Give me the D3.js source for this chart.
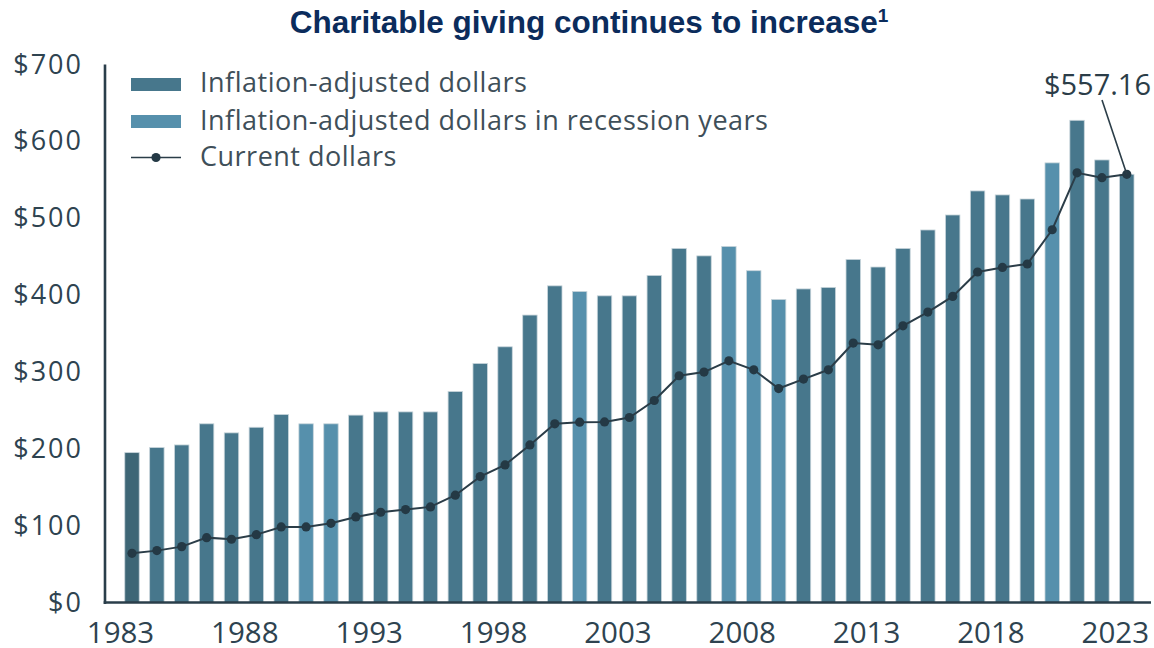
<!DOCTYPE html>
<html>
<head>
<meta charset="utf-8">
<script src="https://cdn.jsdelivr.net/npm/d3@7"></script>
<style>
  html, body { margin: 0; padding: 0; background: #ffffff; }
  svg { display: block; }
</style>
</head>
<body>
<svg id="chart" width="1154" height="648"></svg>
<script>
// Giving totals in billions of dollars, 1983–2023
const years = d3.range(1983, 2024);
const adjustedDollars = [
  195, 201.6, 205, 232.5, 220.7, 228, 244.6, 232.5, 232.5, 243.8,
  248, 248, 248, 274.5, 311, 332.7, 374, 412, 404.7, 399,
  399, 425.6, 460.7, 451, 463.3, 431.7, 394.3, 408, 410, 446.4,
  436.5, 460.7, 484.7, 504.2, 535.5, 530.3, 525, 572, 627.4, 575.8,
  557.16
];
const currentDollars = [
  64, 67.5, 72.7, 84.4, 82.3, 88.3, 98.3, 98.3, 103, 111.3,
  117.4, 120.9, 124.4, 139.6, 163.8, 179, 205, 232.5, 234.6, 235,
  240.7, 262.8, 295, 299.8, 314.5, 302.8, 278.4, 290.7, 302.8, 337.5,
  335.3, 360, 377.9, 398.2, 430, 436, 440.4, 485, 559, 552.8,
  557.16
];
const recessionYears = [1990, 1991, 2001, 2007, 2008, 2009, 2020];
const yTicks = [0, 100, 200, 300, 400, 500, 600, 700];
const xTicks = [1983, 1988, 1993, 1998, 2003, 2008, 2013, 2018, 2023];
const legendLabels = [
  "Inflation-adjusted dollars",
  "Inflation-adjusted dollars in recession years",
  "Current dollars"
];
const calloutYear = 2023;
const calloutValue = 557.16;

const colors = {
  bar: "#47778c",
  barFirst: "#3e6676",
  recession: "#5690ac",
  barEdge: "#c8d5db",
  line: "#2b3d48",
  dot: "#243945",
  axis: "#2a3e4a",
  tick: "#2e4350",
  legendText: "#3f4f59",
  title: "#0b2c5c"
};

const svg = d3.select("#chart");

const plot = { left: 105, right: 1151, top: 64.5, bottom: 602.5 };

const x = d3.scalePoint().domain(years).range([132, 1126.8]);
const y = d3.scaleLinear().domain([0, 700]).range([plot.bottom, plot.top]);
const barWidth = x.step() * 0.58;

const rows = years.map((yr, i) => ({
  year: yr,
  adjusted: adjustedDollars[i],
  current: currentDollars[i],
  recession: recessionYears.includes(yr)
}));

// Title
const title = svg.append("text")
  .attr("x", 589).attr("y", 33)
  .attr("text-anchor", "middle")
  .attr("font-family", "'Liberation Sans', Arial, sans-serif")
  .attr("font-weight", "bold")
  .attr("font-size", 31.5)
  .attr("fill", colors.title);
title.append("tspan").text("Charitable giving continues to increase");
title.append("tspan").attr("font-size", 19).attr("dy", -11).text("1");

// Bars
svg.append("g").selectAll("rect")
  .data(rows)
  .join("rect")
  .attr("x", d => x(d.year) - barWidth / 2)
  .attr("y", d => y(d.adjusted))
  .attr("width", barWidth)
  .attr("height", d => y(0) - y(d.adjusted))
  .attr("fill", (d, i) => d.recession ? colors.recession : (i === 0 ? colors.barFirst : colors.bar))
  .attr("stroke", colors.barEdge)
  .attr("stroke-width", 0.8);

// Current-dollar line
const line = d3.line().x(d => x(d.year)).y(d => y(d.current));
svg.append("path")
  .datum(rows)
  .attr("d", line)
  .attr("fill", "none")
  .attr("stroke", colors.line)
  .attr("stroke-width", 2);

svg.append("g").selectAll("circle")
  .data(rows)
  .join("circle")
  .attr("cx", d => x(d.year))
  .attr("cy", d => y(d.current))
  .attr("r", 4.6)
  .attr("fill", colors.dot);

// Axis lines
svg.append("line")
  .attr("x1", plot.left).attr("x2", plot.left)
  .attr("y1", plot.top).attr("y2", plot.bottom + 1.5)
  .attr("stroke", colors.axis).attr("stroke-width", 2.6);
svg.append("line")
  .attr("x1", plot.left - 1.3).attr("x2", plot.right)
  .attr("y1", plot.bottom).attr("y2", plot.bottom)
  .attr("stroke", colors.axis).attr("stroke-width", 2.6);

// Y tick labels
const yAxis = svg.append("g")
  .attr("transform", `translate(${plot.left},0)`)
  .call(d3.axisLeft(y).tickValues(yTicks).tickSize(0).tickPadding(22)
    .tickFormat(d => "$" + d));
yAxis.select(".domain").remove();
yAxis.selectAll("text")
  .attr("font-family", "'Open Sans', sans-serif")
  .attr("font-size", 27)
  .attr("letter-spacing", 2)
  .attr("fill", colors.tick);

// X tick labels, set slightly left of each bar centre
const xAxis = svg.append("g")
  .attr("transform", `translate(0,${plot.bottom})`)
  .call(d3.axisBottom(x).tickValues(xTicks).tickSize(0).tickPadding(19.5));
xAxis.select(".domain").remove();
xAxis.selectAll("text")
  .attr("font-family", "'Open Sans', sans-serif")
  .attr("font-size", 29.5)
  .attr("dx", -12)
  .attr("fill", colors.tick);

// Legend
const legend = svg.append("g").attr("transform", "translate(131,0)");
const legendBaselines = [92, 129.5, 166];
legend.append("rect").attr("x", 0).attr("y", 78).attr("width", 50).attr("height", 13)
  .attr("fill", colors.bar);
legend.append("rect").attr("x", 0).attr("y", 115).attr("width", 50).attr("height", 13)
  .attr("fill", colors.recession);
legend.append("line").attr("x1", 0).attr("x2", 50).attr("y1", 157.5).attr("y2", 157.5)
  .attr("stroke", colors.line).attr("stroke-width", 1.5);
legend.append("circle").attr("cx", 25).attr("cy", 157.5).attr("r", 4.6).attr("fill", colors.dot);
legend.selectAll("text.lbl")
  .data(legendLabels)
  .join("text")
  .attr("class", "lbl")
  .attr("x", 69)
  .attr("y", (d, i) => legendBaselines[i])
  .attr("font-family", "'Open Sans', sans-serif")
  .attr("font-size", 27)
  .attr("letter-spacing", 0.5)
  .attr("fill", colors.legendText)
  .text(d => d);

// Callout for the latest year
const cx = x(calloutYear), cy = y(calloutValue);
svg.append("line")
  .attr("x1", 1102).attr("y1", 100)
  .attr("x2", cx).attr("y2", cy)
  .attr("stroke", colors.line).attr("stroke-width", 1.6);
svg.append("text")
  .attr("x", 1151).attr("y", 95)
  .attr("text-anchor", "end")
  .attr("font-family", "'Open Sans', sans-serif")
  .attr("font-size", 29)
  .attr("fill", colors.line)
  .text("$" + calloutValue.toFixed(2));
</script>
</body>
</html>
